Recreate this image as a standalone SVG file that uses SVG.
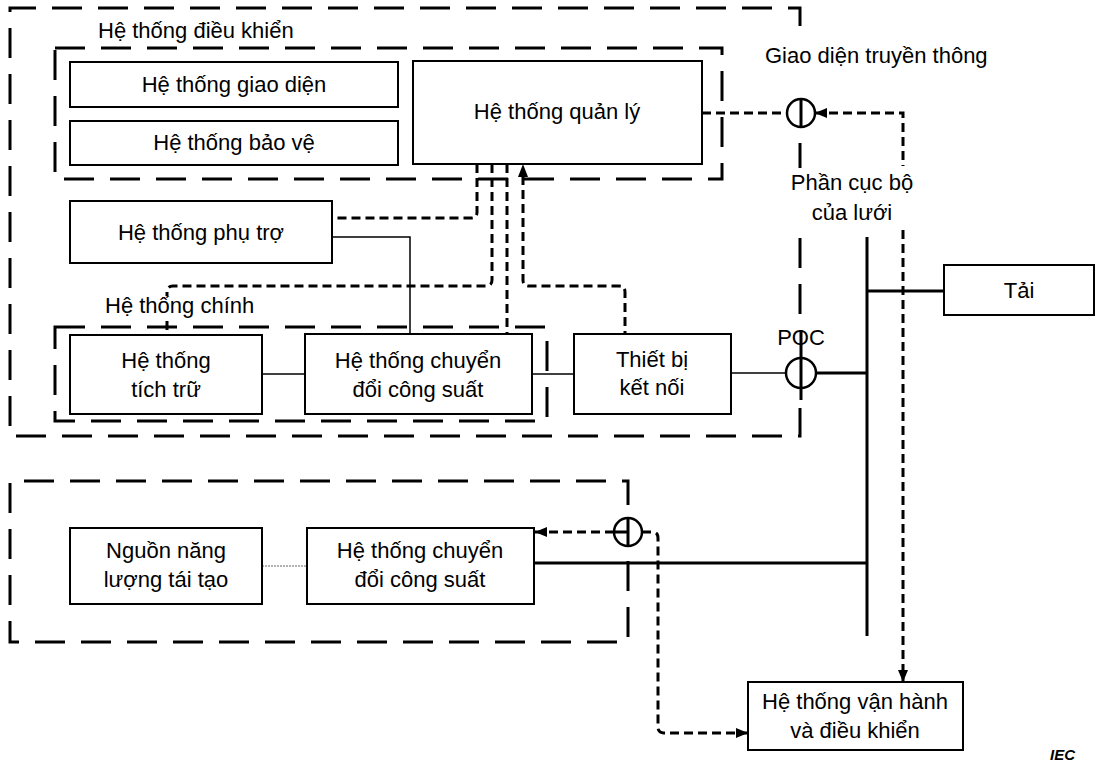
<svg xmlns="http://www.w3.org/2000/svg" width="1097" height="762" viewBox="0 0 1097 762">
<defs>
<style>
text{font-family:"Liberation Sans",Arial,sans-serif;font-size:22px;fill:#000}
.c{text-anchor:middle}
.box{fill:#fff;stroke:#000;stroke-width:2}
.grp{fill:none;stroke:#000;stroke-width:3;stroke-dasharray:30 16}
.com{fill:none;stroke:#000;stroke-width:3;stroke-dasharray:9 5}
.sol{fill:none;stroke:#000;stroke-width:1.5}
.pow{fill:none;stroke:#000;stroke-width:3}
.sym{fill:#fff;stroke:#000;stroke-width:2.5}
</style>
<marker id="ah" viewBox="0 0 12 10" refX="12" refY="5" markerWidth="12" markerHeight="10" markerUnits="userSpaceOnUse" orient="auto-start-reverse">
<path d="M0,0 L12,5 L0,10 Z" fill="#000"/>
</marker>
</defs>
<rect width="1097" height="762" fill="#fff"/>

<g id="groups">
<path class="grp" d="M800,26 V8 H10 V436 H800 V395"/>
<path class="grp" d="M800,143 V168 M800,238 V320"/>
<rect class="grp" x="55" y="48" width="667" height="131"/>
<rect class="grp" x="55" y="327" width="492" height="94"/>
<path class="grp" d="M628,505 V481 H10 V642 H628 V548"/>
</g>

<g id="connectors">
<path class="com" d="M702,113 H787"/>
<path class="com" d="M815,113 H903 V166" marker-start="url(#ah)"/>
<path class="com" d="M903,230 V682" marker-end="url(#ah)"/>
<path class="com" d="M477,164 V212 Q477,218 471,218 H332"/>
<path class="com" d="M492,164 V280 Q492,286 486,286 H173 Q167,286 167,292 V296"/>
<path class="com" d="M167,321 V334"/>
<path class="com" d="M507,164 V334"/>
<path class="com" d="M523,176 V280 Q523,286 529,286 H619 Q625,286 625,292 V334"/>
<path d="M523,164 L528,177 L518,177 Z" fill="#000"/>
<path class="sol" d="M332,237 H410 V334"/>
<path class="sol" d="M262,374 H305"/>
<path class="sol" d="M532,374 H574"/>
<path class="sol" d="M731,373 H786"/>
<path class="pow" d="M816,373 H867"/>
<path class="pow" d="M867,237 V636"/>
<path class="pow" d="M867,291 H944"/>
<path class="pow" d="M534,563 H867"/>
<path d="M262,566 H307" fill="none" stroke="#666" stroke-width="1" stroke-dasharray="2 1"/>
<path class="com" d="M614,532 H535" marker-end="url(#ah)"/>
<path class="com" d="M642,532 H652 Q658,532 658,538 V727 Q658,733 664,733 H748" marker-end="url(#ah)"/>
</g>

<g id="comm-interface">
<circle class="sym" cx="801" cy="113" r="14"/>
<path class="pow" d="M801,99 V127"/>
<text x="765" y="63">Giao diện truyền thông</text>
</g>

<g id="poc">
<circle class="sym" cx="801" cy="373" r="15"/>
<text class="c" x="801" y="345">POC</text>
<path class="pow" d="M801,330 V400"/>
</g>

<g id="meter-lower">
<circle class="sym" cx="628" cy="532" r="14"/>
<path class="pow" d="M628,518 V546 M614,532 H628"/>
</g>

<g id="label-control">
<text x="98" y="38">Hệ thống điều khiển</text>
</g>
<g id="label-main">
<text x="105" y="313">Hệ thống chính</text>
</g>
<g id="label-grid">
<text class="c" x="852" y="190">Phần cục bộ</text>
<text class="c" x="852" y="220">của lưới</text>
</g>

<g id="interface-system">
<rect class="box" x="70" y="62" width="328" height="45"/>
<text class="c" x="234" y="92">Hệ thống giao diện</text>
</g>
<g id="protection-system">
<rect class="box" x="70" y="121" width="328" height="44"/>
<text class="c" x="234" y="150">Hệ thống bảo vệ</text>
</g>
<g id="management-system">
<rect class="box" x="413" y="61" width="289" height="103"/>
<text class="c" x="557" y="119">Hệ thống quản lý</text>
</g>
<g id="auxiliary-system">
<rect class="box" x="70" y="201" width="262" height="62"/>
<text class="c" x="201" y="240">Hệ thống phụ trợ</text>
</g>
<g id="storage-system">
<rect class="box" x="70" y="335" width="192" height="79"/>
<text class="c" x="166" y="368">Hệ thống</text>
<text class="c" x="166" y="397">tích trữ</text>
</g>
<g id="pcs-upper">
<rect class="box" x="305" y="334" width="227" height="80"/>
<text class="c" x="418" y="368">Hệ thống chuyển</text>
<text class="c" x="418" y="397">đổi công suất</text>
</g>
<g id="connection-device">
<rect class="box" x="574" y="334" width="157" height="80"/>
<text class="c" x="652" y="367">Thiết bị</text>
<text class="c" x="652" y="395">kết nối</text>
</g>
<g id="load">
<rect class="box" x="944" y="265" width="150" height="50"/>
<text class="c" x="1019" y="298">Tải</text>
</g>
<g id="renewable">
<rect class="box" x="70" y="528" width="192" height="76"/>
<text class="c" x="166" y="558">Nguồn năng</text>
<text class="c" x="166" y="587">lượng tái tạo</text>
</g>
<g id="pcs-lower">
<rect class="box" x="307" y="528" width="227" height="76"/>
<text class="c" x="420" y="558">Hệ thống chuyển</text>
<text class="c" x="420" y="587">đổi công suất</text>
</g>
<g id="operation-control">
<rect class="box" x="748" y="682" width="215" height="68"/>
<text class="c" x="855" y="709">Hệ thống vận hành</text>
<text class="c" x="855" y="738">và điều khiển</text>
</g>
<text x="1050" y="760" style="font-size:15px;font-style:italic;font-weight:bold">IEC</text>
</svg>
